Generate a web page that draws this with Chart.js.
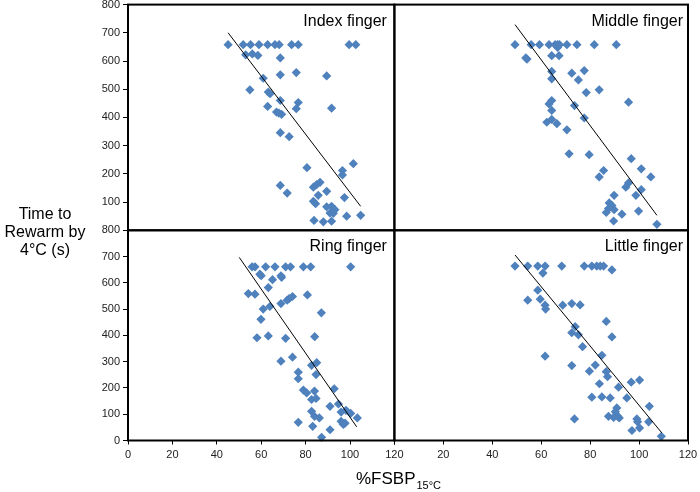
<!DOCTYPE html>
<html>
<head>
<meta charset="utf-8">
<script src="https://cdn.jsdelivr.net/npm/chart.js@4.4.0/dist/chart.umd.min.js"></script>
<style>
  body { margin: 0; background: #fff; }
</style>
</head>
<body>
<canvas id="fingerChart" width="700" height="492"></canvas>
<script>
//Panel names and tick values
const panelNames = ['Index finger', 'Middle finger', 'Ring finger', 'Little finger'];
const xTickStep = 20;
const yTickStep = 100;
const xMax = 120;
const yMax = 800;

//Index finger (top left)
const indexX = [45.1, 51.9, 55.2, 59.0, 62.9, 66.2, 68.1, 73.7, 76.7, 99.6, 102.6,
  53, 56, 58.5, 68.6, 75.8, 68.6, 89.5, 60.9, 54.9, 63.2, 64, 68.6, 76.7, 62.9, 75.8, 91.7,
  66.9, 69.2, 68, 68.6, 72.6, 101.5, 80.6, 96.6, 96.6, 86.5, 85, 83.5, 68.6, 71.7, 89.5,
  85.7, 97.5, 83.5, 84.5, 89.5, 91.7, 93.2, 91, 92.5, 98.5, 104.8, 83.8, 88, 91.7];
const indexY = [658, 658, 658, 658, 658, 658, 658, 658, 658, 658, 658,
  622, 625, 620, 611, 559, 551, 547, 539, 498, 490, 484, 460, 453, 439, 431, 433,
  419, 411, 415, 346, 332, 236, 222, 212, 196, 170, 162, 153, 159, 132, 138,
  124, 116, 103, 94, 83, 85, 73, 61, 60, 50, 53, 35, 30, 32];

//Middle finger (top right)
const middleX = [49.3, 55.9, 59.3, 63.2, 65.7, 66.7, 67.5, 70.5, 74.6, 81.7, 90.7,
  66.7, 53.7, 54.2, 64.3, 67.3, 64.3, 72.5, 77.6, 64.3, 75.2, 78.4, 83.7, 64.3, 63.2, 95.7,
  73.6, 64.3, 77.6, 62.3, 64.3, 66.4, 70.5, 71.4, 79.6, 96.8, 100.9, 85.5, 83.7, 104.8,
  95.7, 94.6, 100.9, 98.7, 89.8, 87.8, 88.9, 87.5, 89.8, 86.6, 93, 99.8, 89.6, 107.3];
const middleY = [658, 658, 658, 658, 658, 658, 658, 658, 658, 658, 658,
  648, 611, 607, 619, 619, 563, 557, 566, 537, 533, 488, 498, 460, 448, 454,
  442, 425, 398, 383, 393, 378, 356, 271, 268, 254, 218, 212, 189, 189,
  168, 153, 144, 124, 124, 97, 88, 77, 73, 63, 57, 68, 33, 21];

//Ring finger (bottom left)
const ringX = [55.9, 57.2, 62.0, 66.2, 71.0, 73.2, 79.0, 82.3, 100.3,
  59.4, 60, 68.9, 69.2, 65.1, 63.2, 54.2, 57.2, 80.8, 74.1, 72.6, 71.7, 68.9, 63.9, 60.9,
  87.1, 59.9, 58.1, 63.2, 71.0, 84.1, 68.9, 74.1, 82.7, 85, 84.7, 76.7, 76.7, 92.9, 79,
  80.5, 84, 82.7, 84.7, 91, 94.8, 82.7, 96, 84, 86.2, 98.2, 100.3, 103.3, 96, 97, 97.8,
  76.7, 83.2, 91, 87.2];
const ringY = [661, 661, 661, 661, 661, 661, 661, 661, 661,
  633, 627, 627, 621, 612, 582, 559, 557, 554, 548, 540, 534, 521, 510, 500,
  486, 461, 391, 398, 389, 395, 302, 317, 286, 296, 251, 260, 235, 197, 192,
  181, 188, 156, 160, 130, 139, 111, 108, 92, 86, 115, 103, 86, 73, 61, 66,
  69, 54, 41, 12];

//Little finger (bottom right)
const littleX = [49.3, 54.5, 58.6, 61.6, 68.4, 77.6, 80.7, 82.7, 84.1, 85.5,
  88.9, 60.7, 58.6, 59.6, 54.5, 61.6, 61.8, 68.8, 72.5, 75.9, 86.6, 73.9, 72.5, 75.2,
  88.9, 76.9, 61.6, 84.8, 72.5, 82.1, 79.7, 86.6, 87.1, 83.8, 91.6, 96.8, 100.2, 80.7,
  84.8, 88.2, 95, 104.2, 90.9, 90.3, 87.5, 91.3, 89.6, 91.9, 73.6, 99.1, 99.4, 103.9,
  100.2, 97.1, 109.1];
const littleY = [664, 664, 664, 664, 664, 664, 664, 664, 664, 664,
  649, 637, 572, 538, 534, 515, 500, 515, 521, 516, 453, 433, 410, 402,
  394, 357, 321, 324, 285, 287, 264, 262, 243, 216, 203, 222, 230, 165,
  166, 162, 162, 130, 124, 109, 92, 92, 88, 86, 82, 82, 71, 71,
  48, 38, 16];

//Trend lines (end points)
const indexFitX = [45.1, 104.8];
const indexFitY = [700, 85];
const middleFitX = [49.3, 107.3];
const middleFitY = [729, 53];
const ringFitX = [50.1, 103];
const ringFitY = [697, 52];
const littleFitX = [49.3, 109.3];
const littleFitY = [706, 29];

function toPoints(xs, ys) {
  return xs.map(function (x, i) { return { x: x, y: ys[i] }; });
}

const pointBlue = '#4f81bd';
const fontName = "'Liberation Sans', Arial, sans-serif";

function scatterSet(xs, ys, xId, yId) {
  return {
    type: 'scatter',
    data: toPoints(xs, ys),
    xAxisID: xId,
    yAxisID: yId,
    pointStyle: 'rectRot',
    pointRadius: 4.6,
    backgroundColor: pointBlue,
    borderColor: pointBlue,
    borderWidth: 0,
    clip: false
  };
}

function fitSet(xs, ys, xId, yId) {
  return {
    type: 'line',
    data: toPoints(xs, ys),
    xAxisID: xId,
    yAxisID: yId,
    borderColor: '#000',
    borderWidth: 1,
    pointRadius: 0,
    showLine: true,
    fill: false,
    clip: false
  };
}

function yAxis(weight, hideZero) {
  return {
    type: 'linear',
    position: 'left',
    stack: 'rows',
    stackWeight: weight,
    min: 0,
    max: yMax,
    grid: { drawOnChartArea: false, drawTicks: true, tickLength: 5, color: '#000', tickColor: '#000' },
    border: { display: false },
    ticks: {
      stepSize: yTickStep,
      autoSkip: false,
      padding: 3,
      color: '#222',
      font: { family: fontName, size: 11 },
      callback: function (v) { return (hideZero && v === 0) ? '' : v; }
    },
    afterFit: function (s) { s.width = 128; s.paddingTop = 0; s.paddingBottom = 0; }
  };
}

function xAxis(weight, hideZero) {
  return {
    type: 'linear',
    position: 'bottom',
    stack: 'cols',
    stackWeight: weight,
    min: 0,
    max: xMax,
    grid: { drawOnChartArea: false, drawTicks: true, tickLength: 4, color: '#000', tickColor: '#000' },
    border: { display: false },
    ticks: {
      stepSize: xTickStep,
      autoSkip: false,
      padding: 4,
      maxRotation: 0,
      color: '#222',
      font: { family: fontName, size: 11 },
      callback: function (v) { return (hideZero && v === 0) ? '' : v; }
    },
    afterFit: function (s) { s.height = 51.5; s.paddingLeft = 0; s.paddingRight = 0; }
  };
}

//Frames, panel names and axis titles
const decorPlugin = {
  id: 'decor',
  afterDatasetsDraw: function (chart) {
    const ctx = chart.ctx;
    const sc = chart.scales;
    const panels = [[sc.xL, sc.yT], [sc.xR, sc.yT], [sc.xL, sc.yB], [sc.xR, sc.yB]];
    ctx.save();
    ctx.strokeStyle = '#000';
    ctx.lineWidth = 2;
    panels.forEach(function (p) {
      ctx.strokeRect(p[0].left, p[1].top, p[0].right - p[0].left, p[1].bottom - p[1].top);
    });

    ctx.fillStyle = '#000';
    ctx.font = '16px ' + fontName;
    ctx.textAlign = 'right';
    ctx.textBaseline = 'middle';
    panels.forEach(function (p, i) {
      const pad = (i % 2 === 0) ? 7.5 : 5;
      ctx.fillText(panelNames[i], p[0].right - pad, p[1].top + 16.5);
    });

    //y title, horizontal on three lines
    ctx.textAlign = 'center';
    ctx.font = '16px ' + fontName;
    ctx.fillText('Time to', 45, 215);
    ctx.fillText('Rewarm by', 45, 233);
    ctx.fillText('4°C (s)', 45, 251);

    //x title with subscript
    ctx.textAlign = 'left';
    ctx.textBaseline = 'alphabetic';
    const main = '%FSBP';
    const sub = '15°C';
    ctx.font = '17px ' + fontName;
    const w1 = ctx.measureText(main).width;
    ctx.font = '11px ' + fontName;
    const w2 = ctx.measureText(sub).width;
    const startX = 398 - (w1 + w2) / 2;
    ctx.font = '17px ' + fontName;
    ctx.fillText(main, startX, 484);
    ctx.font = '11px ' + fontName;
    ctx.fillText(sub, startX + w1 + 1, 489);
    ctx.restore();
  }
};

const config = {
  type: 'scatter',
  data: {
    datasets: [
      fitSet(indexFitX, indexFitY, 'xL', 'yT'),
      fitSet(middleFitX, middleFitY, 'xR', 'yT'),
      fitSet(ringFitX, ringFitY, 'xL', 'yB'),
      fitSet(littleFitX, littleFitY, 'xR', 'yB'),
      scatterSet(indexX, indexY, 'xL', 'yT'),
      scatterSet(middleX, middleY, 'xR', 'yT'),
      scatterSet(ringX, ringY, 'xL', 'yB'),
      scatterSet(littleX, littleY, 'xR', 'yB')
    ]
  },
  options: {
    responsive: false,
    animation: false,
    events: [],
    layout: { padding: { top: 4, right: 12, bottom: 0, left: 0 } },
    //left axes are stacked in reverse order, so the bottom row comes first
    scales: {
      yB: yAxis(210.5, false),
      yT: yAxis(226, true),
      xL: xAxis(266.4, false),
      xR: xAxis(293.6, true)
    },
    plugins: {
      legend: { display: false },
      tooltip: { enabled: false }
    }
  },
  plugins: [decorPlugin]
};

//Create chart
var chart = new Chart(document.getElementById('fingerChart'), config);
</script>
</body>
</html>
